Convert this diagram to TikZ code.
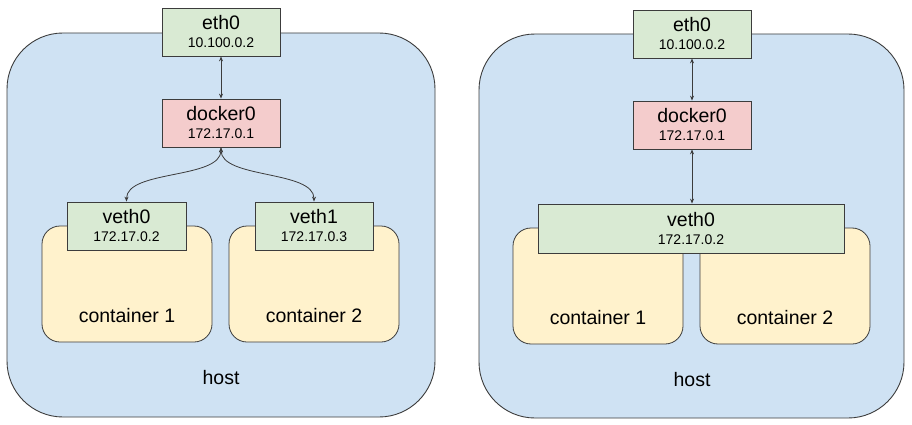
\documentclass[tikz,border=0pt]{standalone}
\usepackage{fontspec}
\setmainfont{Liberation Sans}
\usetikzlibrary{arrows.meta}
\definecolor{hostfill}{HTML}{CFE2F3}
\definecolor{gfill}{HTML}{D9EAD3}
\definecolor{pfill}{HTML}{F4CCCC}
\definecolor{yfill}{HTML}{FFF2CC}
\definecolor{lc}{HTML}{3C3C3C}
\newcommand\mynamefont{\fontsize{19.5}{18}\selectfont}
\newcommand\myipfont{\fontsize{14}{18}\selectfont}
\tikzset{
  hostbox/.style={draw=lc, fill=hostfill, line width=0.9pt, rounded corners=56pt},
  ctbox/.style={draw=lc, fill=yfill, line width=0.8pt, rounded corners=18pt},
  ifbox/.style={draw=lc, line width=0.8pt, inner sep=0pt, align=center, font=\mynamefont, minimum height=48pt},
  gbox/.style={ifbox, fill=gfill},
  pbox/.style={ifbox, fill=pfill},
  lbl/.style={font=\mynamefont, inner sep=0pt},
  conn/.style={draw=lc, line width=0.8pt, {Stealth[length=5pt,width=4pt]}-{Stealth[length=5pt,width=4pt]}},
}
\begin{document}
\begin{tikzpicture}[x=1pt,y=-1pt]
\useasboundingbox (0,0) rectangle (912,425);
% ---------- left panel ----------
\draw[hostbox] (7,33) rectangle (435,417);
\node[lbl] (hostL) at (221,378) {host};
\draw[ctbox] (42,226) rectangle (212,342);
\draw[ctbox] (229,226) rectangle (399,342);
\node[lbl] (c1L) at (127,316) {container 1};
\node[lbl] (c2L) at (314,316) {container 2};
\node[gbox, minimum width=118pt] (eth0L) at (221,32) {eth0\\{\myipfont 10.100.0.2}};
\node[pbox, minimum width=118pt] (dockL) at (221,123) {docker0\\{\myipfont 172.17.0.1}};
\node[gbox, minimum width=119pt] (veth0L) at (126.5,226) {veth0\\{\myipfont 172.17.0.2}};
\node[gbox, minimum width=118pt] (veth1L) at (314,226) {veth1\\{\myipfont 172.17.0.3}};
\draw[conn] (eth0L.south) -- (dockL.south |- dockL.north);
\draw[conn] (dockL.south) to[out=-90,in=90,looseness=0.75] (veth0L.north);
\draw[conn] (dockL.south) to[out=-90,in=90,looseness=0.75] (veth1L.north);
% ---------- right panel ----------
\draw[hostbox] (479,34) rectangle (904,418);
\node[lbl] (hostR) at (692,380) {host};
\draw[ctbox] (513,228) rectangle (683,344);
\draw[ctbox] (700,228) rectangle (870,344);
\node[lbl] (c1R) at (598,318) {container 1};
\node[lbl] (c2R) at (785,318) {container 2};
\node[gbox, minimum width=118pt] (eth0R) at (692,34) {eth0\\{\myipfont 10.100.0.2}};
\node[pbox, minimum width=118pt] (dockR) at (692,125) {docker0\\{\myipfont 172.17.0.1}};
\node[gbox, minimum width=306pt, minimum height=49pt] (veth0R) at (691,228.5) {veth0\\{\myipfont 172.17.0.2}};
\draw[conn] (eth0R.south) -- (dockR.north);
\draw[conn] (dockR.south) -- (veth0R.north -| dockR.south);
\end{tikzpicture}
\end{document}
